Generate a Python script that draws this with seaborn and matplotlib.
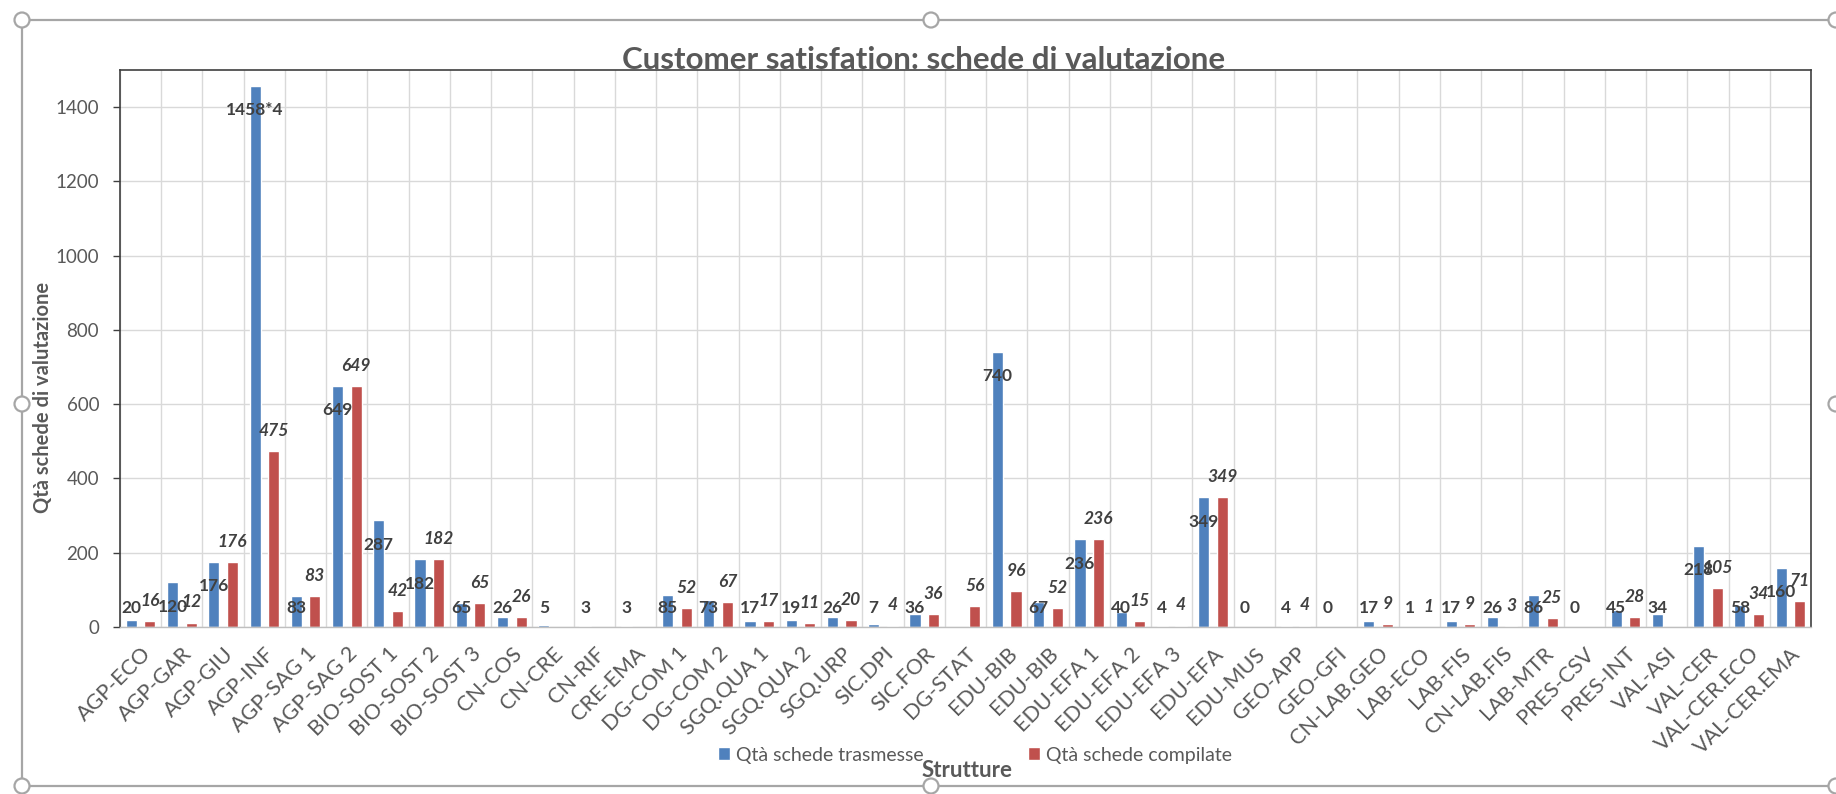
import numpy as np
import pandas as pd
import matplotlib
matplotlib.use("Agg")
import matplotlib.pyplot as plt
import seaborn as sns
from matplotlib.patches import Rectangle, Ellipse

# ---------------- data ----------------
categories = ["AGP-ECO", "AGP-GAR", "AGP-GIU", "AGP-INF", "AGP-SAG 1", "AGP-SAG 2",
              "BIO-SOST 1", "BIO-SOST 2", "BIO-SOST 3", "CN-COS", "CN-CRE", "CN-RIF",
              "CRE-EMA", "DG-COM 1", "DG-COM 2", "SGQ.QUA 1", "SGQ.QUA 2", "SGQ.URP",
              "SIC.DPI", "SIC.FOR", "DG-STAT", "EDU-BIB", "EDU-BIB", "EDU-EFA 1",
              "EDU-EFA 2", "EDU-EFA 3", "EDU-EFA", "EDU-MUS", "GEO-APP", "GEO-GFI",
              "CN-LAB.GEO", "LAB-ECO", "LAB-FIS", "CN-LAB.FIS", "LAB-MTR", "PRES-CSV",
              "PRES-INT", "VAL-ASI", "VAL-CER", "VAL-CER.ECO", "VAL-CER.EMA"]
nan = np.nan
trasmesse = [20, 120, 176, 1458, 83, 649, 287, 182, 65, 26, 5, 3,
             3, 85, 73, 17, 19, 26, 7, 36, nan, 740, 67, 236,
             40, 4, 349, 0, 4, 0, 17, 1, 17, 26, 86, 0,
             45, 34, 218, 58, 160]
compilate = [16, 12, 176, 475, 83, 649, 42, 182, 65, 26, nan, nan,
             nan, 52, 67, 17, 11, 20, 4, 36, 56, 96, 52, 236,
             15, 4, 349, nan, 4, nan, 9, 1, 9, 3, 25, nan,
             28, nan, 105, 34, 71]
label_override = {"AGP-INF": "1458*4"}
series_names = ["Qtà schede trasmesse", "Qtà schede compilate"]
title_text = "Customer satisfation: schede di valutazione"
ylabel_text = "Qtà schede di valutazione"
xlabel_text = "Strutture"
yticks = [0, 200, 400, 600, 800, 1000, 1200, 1400]

BLUE = "#4f81bd"
RED = "#c0504d"
GRAY = "#595959"
DARK = "#404040"

n = len(categories)
df = pd.DataFrame({
    "idx": list(range(n)) * 2,
    "value": trasmesse + compilate,
    "serie": [series_names[0]] * n + [series_names[1]] * n,
}).dropna()

sns.set_theme(style="white")
plt.rcParams["font.family"] = ["Lato", "DejaVu Sans"]

W, H = 1836, 794
fig = plt.figure(figsize=(W / 100, H / 100), dpi=100)
ax = fig.add_axes([120 / W, 1 - 627 / H, (1811 - 120) / W, (627 - 70) / H])

sns.barplot(data=df, x="idx", y="value", hue="serie", hue_order=series_names,
            order=list(range(n)), palette=[BLUE, RED], width=0.9, gap=0.4,
            saturation=1, errorbar=None, ax=ax)

ax.set_ylim(0, 1500)
ax.set_xlim(-0.5, n - 0.5)
ax.set_yticks(yticks)
ax.set_xticks(range(n))
ax.set_xticklabels(categories, rotation=45, ha="right", rotation_mode="anchor")
ax.set_xticks(np.arange(-0.5, n, 1.0), minor=True)

ax.grid(False)
ax.yaxis.grid(True, color="#d9d9d9", linewidth=1.0)
ax.xaxis.grid(True, which="minor", color="#d9d9d9", linewidth=1.0)
ax.set_axisbelow(True)

ax.tick_params(axis="x", which="both", length=0, pad=12, labelsize=15.5, labelcolor=GRAY)
ax.tick_params(axis="y", length=5, width=1, color=DARK, pad=10, labelsize=13.5,
               labelcolor=GRAY, left=True)
for s in ["left", "top", "right"]:
    ax.spines[s].set_color(DARK)
    ax.spines[s].set_linewidth(1.2)
    ax.spines[s].set_visible(True)
ax.spines["bottom"].set_color("#bfbfbf")
ax.spines["bottom"].set_linewidth(1.0)

ax.set_ylabel(ylabel_text, fontsize=14.5, fontweight="bold", color=GRAY)
ax.yaxis.set_label_coords(-0.0395, 0.413)
ax.set_xlabel(xlabel_text, fontsize=16, fontweight="bold", color=GRAY)
ax.xaxis.set_label_coords(0.501, -0.238)

# data labels
data_series = [trasmesse, compilate]
for k, cont in enumerate(ax.containers):
    for bar in cont:
        cx = bar.get_x() + bar.get_width() / 2
        i = int(round(cx))
        v = data_series[k][i]
        if v is None or (isinstance(v, float) and np.isnan(v)):
            continue
        if k == 0:
            txt = label_override.get(categories[i], str(int(v)))
            y = max(v - 65, 52)
            ax.text(cx, y, txt, ha="center", va="center", fontsize=12.5,
                    fontweight="bold", color=DARK)
        else:
            y = v + 54
            ax.text(cx, y, str(int(v)), ha="center", va="center", fontsize=12.5,
                    fontweight="bold", style="italic", color=DARK)

# legend
if ax.get_legend() is not None:
    ax.get_legend().remove()
handles = [Rectangle((0, 0), 1, 1, facecolor=BLUE), Rectangle((0, 0), 1, 1, facecolor=RED)]
fig.legend(handles, series_names, loc="center", bbox_to_anchor=(975 / W, 1 - 755 / H),
           ncol=2, frameon=False, fontsize=14, handlelength=0.6, handleheight=0.6,
           handletextpad=0.3, columnspacing=5.4, labelcolor=GRAY, borderpad=0.1)

# title
fig.text(924 / W, 1 - 69 / H, title_text, ha="center", va="baseline",
         fontsize=22.5, fontweight="bold", color=GRAY)

# selection frame (chart object outline with handles)
fx0, fx1, fy0, fy1 = 22, 1840, 20, 786
frame = Rectangle((fx0 / W, 1 - fy1 / H), (fx1 - fx0) / W, (fy1 - fy0) / H,
                  transform=fig.transFigure, fill=False, edgecolor="#a6a6a6",
                  linewidth=1.6, zorder=0, clip_on=False)
fig.add_artist(frame)
hx = [fx0, 931, fx1 - 4]
hy = [fy0, 404, fy1]
for px in hx:
    for py in hy:
        if px == hx[1] and py == hy[1]:
            continue
        e = Ellipse((px / W, 1 - py / H), 15 / W, 15 / H, transform=fig.transFigure,
                    facecolor="white", edgecolor="#a6a6a6", linewidth=1.6, zorder=5)
        fig.add_artist(e)

fig.savefig("out.png", dpi=100)
